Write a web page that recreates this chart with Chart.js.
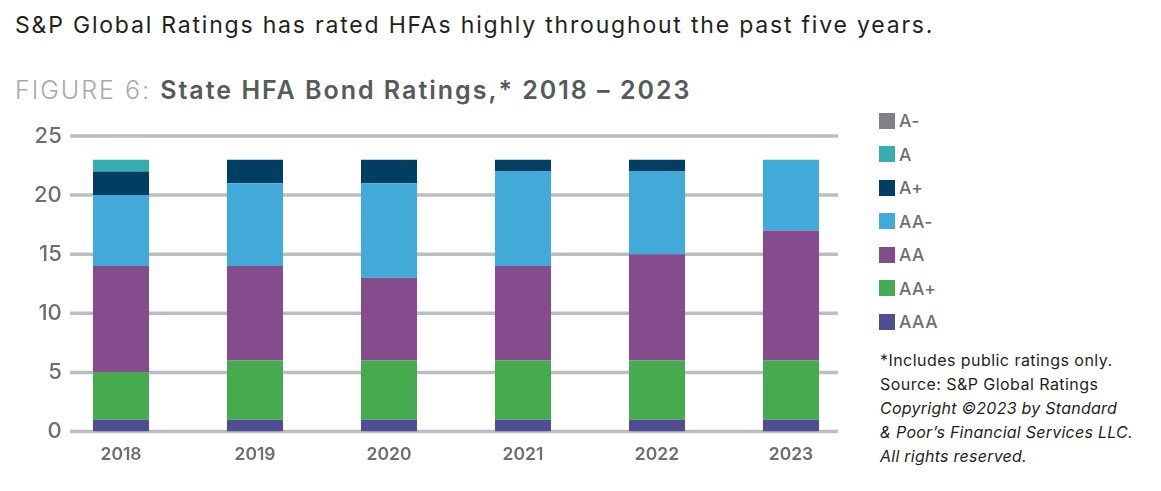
<!DOCTYPE html>
<html>
<head>
<meta charset="utf-8">
<script src="https://cdn.jsdelivr.net/npm/chart.js@4.4.0/dist/chart.umd.min.js"></script>
<style>
  html, body { margin: 0; padding: 0; background: #ffffff; }
  body { width: 1161px; height: 491px; position: relative; overflow: hidden; font-family: "Inter", "Open Sans", sans-serif; }
  #headline { position: absolute; left: 15px; top: 11px; font-size: 23px; color: #231f20; white-space: nowrap; letter-spacing: 1.8px; }
  #title { position: absolute; left: 15px; top: 75px; font-size: 25px; white-space: nowrap; letter-spacing: 2.0px; }
  #title .light { color: #a7a9ac; font-weight: 300; }
  #title .bold { color: #58595b; font-weight: 600; }
  #chartBox { position: absolute; left: 0; top: 120px; width: 870px; height: 360px; }
  #legend { position: absolute; left: 879px; top: 104px; }
  .li { display: flex; align-items: center; height: 33.5px; }
  .sw { width: 16px; height: 16px; margin-right: 4px; }
  .lt { font-size: 17.5px; color: #6d6e71; font-weight: 500; letter-spacing: 0.4px; }
  #notes { position: absolute; left: 880px; top: 348px; font-size: 16px; line-height: 24px; color: #231f20; white-space: nowrap; letter-spacing: 0.45px; }
  #notes .it { font-style: italic; letter-spacing: 0.25px; }
</style>
</head>
<body>
<div id="headline">S&amp;P Global Ratings has rated HFAs highly throughout the past five years.</div>
<div id="title"><span class="light">FIGURE 6: </span><span class="bold">State HFA Bond Ratings,* 2018 – 2023</span></div>
<div id="chartBox"><canvas id="c"></canvas></div>
<div id="legend"></div>
<div id="notes">
  <div>*Includes public ratings only.</div>
  <div>Source: S&amp;P Global Ratings</div>
  <div class="it">Copyright ©2023 by Standard</div>
  <div class="it">&amp; Poor’s Financial Services LLC.</div>
  <div class="it">All rights reserved.</div>
</div>
<script>
const categories = ["2018", "2019", "2020", "2021", "2022", "2023"];
const yTicks = [0, 5, 10, 15, 20, 25];

const seriesAAA  = [1, 1, 1, 1, 1, 1];
const seriesAAp  = [4, 5, 5, 5, 5, 5];
const seriesAA   = [9, 8, 7, 8, 9, 11];
const seriesAAm  = [6, 7, 8, 8, 7, 6];
const seriesAp   = [2, 2, 2, 1, 1, 0];
const seriesA    = [1, 0, 0, 0, 0, 0];
const seriesAm   = [0, 0, 0, 0, 0, 0];

const seriesNames  = ["AAA", "AA+", "AA", "AA-", "A+", "A", "A-"];
const seriesColors = ["#514d93", "#46aa4e", "#844b8d", "#41aad8", "#003e63", "#38adae", "#808285"];
const seriesData   = [seriesAAA, seriesAAp, seriesAA, seriesAAm, seriesAp, seriesA, seriesAm];

const datasets = seriesNames.map((n, i) => ({
  label: n,
  data: seriesData[i],
  backgroundColor: seriesColors[i],
  borderWidth: 0,
  barPercentage: 0.418,
  categoryPercentage: 1.0,
  stack: "s"
}));

const gridPlugin = {
  id: "gridLines",
  beforeDatasetsDraw(chart) {
    const ctx = chart.ctx;
    const ys = chart.scales.y;
    const a = chart.chartArea;
    ctx.save();
    ctx.strokeStyle = "#bcbdc0";
    ctx.lineWidth = 3.5;
    yTicks.forEach(v => {
      const y = ys.getPixelForValue(v);
      ctx.beginPath();
      ctx.moveTo(a.left + 16, y);
      ctx.lineTo(a.right - 20, y);
      ctx.stroke();
    });
    ctx.restore();
  }
};

const chart = new Chart(document.getElementById("c"), {
  type: "bar",
  data: { labels: categories, datasets: datasets },
  options: {
    responsive: true,
    maintainAspectRatio: false,
    animation: false,
    layout: { padding: { top: 16, right: 12, left: 0, bottom: 0 } },
    plugins: { legend: { display: false }, tooltip: { enabled: false } },
    scales: {
      x: {
        stacked: true,
        offset: true,
        grid: { display: false, drawTicks: false },
        border: { display: false },
        ticks: { color: "#6d6e71", padding: 13, font: { family: "Inter", size: 17.5, weight: "600" } },
        afterFit(s) { s.height = 48.5; }
      },
      y: {
        stacked: true,
        min: 0, max: 25,
        afterBuildTicks(s) { s.ticks = yTicks.map(v => ({ value: v })); },
        grid: { display: false, drawTicks: false },
        border: { display: false },
        ticks: {
          color: "#6d6e71",
          mirror: true,
          crossAlign: "far",
          padding: -20,
          font: { family: "Inter", size: 22, weight: "500" }
        },
        afterFit(s) { s.width = 54; }
      }
    }
  },
  plugins: [gridPlugin]
});

// HTML legend built from the chart's datasets (reversed order: top of stack first)
const lg = document.getElementById("legend");
chart.data.datasets.slice().reverse().forEach(ds => {
  const row = document.createElement("div");
  row.className = "li";
  const sw = document.createElement("div");
  sw.className = "sw";
  sw.style.background = ds.backgroundColor;
  const t = document.createElement("span");
  t.className = "lt";
  t.textContent = ds.label;
  row.appendChild(sw); row.appendChild(t);
  lg.appendChild(row);
});
</script>
</body>
</html>
